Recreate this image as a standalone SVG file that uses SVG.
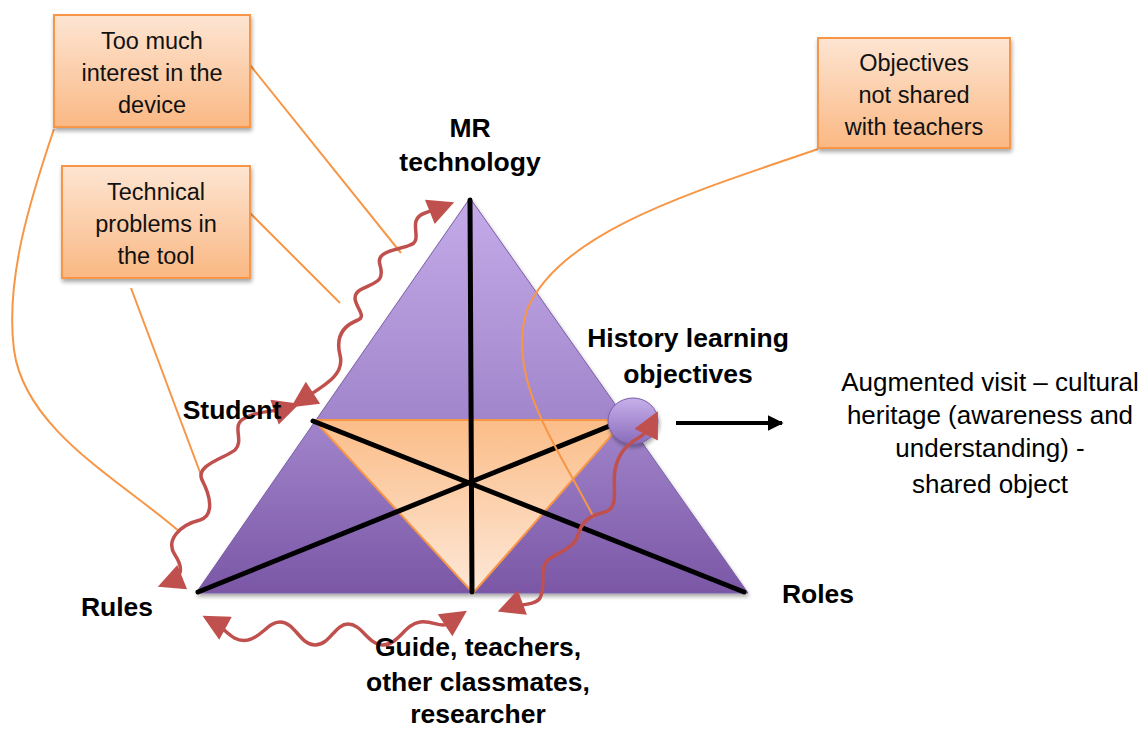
<svg xmlns="http://www.w3.org/2000/svg" width="1147" height="729" viewBox="0 0 1147 729">
<defs>
<linearGradient id="gPurple" x1="0" y1="0" x2="0" y2="1">
<stop offset="0" stop-color="#c4abe8"/><stop offset="0.55" stop-color="#a286cc"/><stop offset="1" stop-color="#7b57a6"/>
</linearGradient>
<linearGradient id="gOrange" x1="0" y1="0" x2="0" y2="1">
<stop offset="0" stop-color="#fbbd88"/><stop offset="1" stop-color="#fde8d8"/>
</linearGradient>
<linearGradient id="gBox" x1="0" y1="0" x2="0" y2="1">
<stop offset="0" stop-color="#fde5d3"/><stop offset="1" stop-color="#fab883"/>
</linearGradient>
<linearGradient id="gCircle" x1="0" y1="0" x2="0" y2="1">
<stop offset="0" stop-color="#c7b0ea"/><stop offset="1" stop-color="#8a6cbb"/>
</linearGradient>
<filter id="shadow" x="-10%" y="-10%" width="130%" height="130%">
<feGaussianBlur in="SourceAlpha" stdDeviation="2"/><feOffset dx="1" dy="3"/>
<feComponentTransfer><feFuncA type="linear" slope="0.35"/></feComponentTransfer>
<feMerge><feMergeNode/><feMergeNode in="SourceGraphic"/></feMerge>
</filter>
<marker id="redHead" viewBox="0 0 10 10" refX="5" refY="5" markerWidth="8.5" markerHeight="7.5" orient="auto-start-reverse" markerUnits="strokeWidth">
<path d="M0,0 L10,5 L0,10 z" fill="#c0504d"/>
</marker>
<marker id="blackHead" viewBox="0 0 10 10" refX="9" refY="5" markerWidth="4" markerHeight="4" orient="auto" markerUnits="strokeWidth">
<path d="M0,0 L10,5 L0,10 z" fill="#000"/>
</marker>
</defs>
<style>
.box{fill:url(#gBox);stroke:#f79646;stroke-width:2;filter:url(#shadow)}
.bt{font-family:"Liberation Sans",Arial,sans-serif;font-size:23.5px;fill:#111;text-anchor:middle}
.lbl{font-family:"Liberation Sans",Arial,sans-serif;font-size:26.5px;font-weight:bold;fill:#000;text-anchor:middle}
.txt{font-family:"Liberation Sans",Arial,sans-serif;font-size:26px;fill:#000;text-anchor:middle}
.oline{fill:none;stroke:#f79646;stroke-width:2}
.wave{fill:none;stroke:#c0504d;stroke-width:3.5;stroke-linecap:round}
.bl{stroke:#000;stroke-width:5;stroke-linecap:round}
</style>

<g id="triangle">
<polygon points="470,198 196,593 748,593" fill="url(#gPurple)" stroke="#7b5ea8" stroke-width="1" filter="url(#shadow)"/>
<polygon points="314,420 625,420 473,593" fill="url(#gOrange)" stroke="#f79646" stroke-width="2"/>
<line class="bl" x1="470" y1="200" x2="472" y2="592"/>
<line class="bl" x1="313" y1="421" x2="744" y2="592"/>
<line class="bl" x1="198" y1="592" x2="612" y2="425"/>
<ellipse cx="633" cy="421" rx="25" ry="23" fill="url(#gCircle)" stroke="#7b5ea8" stroke-width="1" filter="url(#shadow)"/>
</g>

<g id="connectors">
<path class="oline" d="M250,65 L401,253"/>
<path class="oline" d="M54,129 C30,200 5,280 14,350 C25,430 120,480 180,532"/>
<path class="oline" d="M250,213 L340,303"/>
<path class="oline" d="M131,288 L207,491"/>
<path class="oline" d="M818,149 C700,190 560,230 527,310 C505,380 560,450 594,518"/>
<line x1="676" y1="423" x2="782" y2="423" stroke="#000" stroke-width="4" marker-end="url(#blackHead)"/>
<path class="wave" marker-start="url(#redHead)" marker-end="url(#redHead)" d="M170,582 C180,578 185,570 175,555 C165,540 180,525 200,520 C215,515 210,495 202,480 C195,465 225,458 235,450 C245,440 230,425 245,418 C260,410 275,412 287,408"/>
<path class="wave" marker-start="url(#redHead)" marker-end="url(#redHead)" d="M302,400 C325,385 345,375 340,355 C335,335 345,325 358,320 C370,315 345,300 360,290 C375,282 385,282 380,265 C375,250 400,250 410,245 C425,240 405,220 425,213 C433,210 437,209 442,207"/>
<path class="wave" marker-start="url(#redHead)" marker-end="url(#redHead)" d="M214,622 C225,628 232,643 248,640 C262,637 268,622 280,622 C295,622 300,645 315,645 C330,645 335,624 348,624 C362,624 368,645 383,645 C398,645 405,624 420,622 C432,620 440,628 448,624 C451,622 453,620 456,618"/>
<path class="wave" marker-start="url(#redHead)" marker-end="url(#redHead)" d="M510,607 C518,604 535,606 540,598 C547,585 538,570 548,560 C558,552 575,548 578,535 C582,520 592,515 605,512 C620,508 612,485 615,470 C618,455 625,445 640,437 C647,432 650,427 652,423"/>
</g>

<g id="box-interest">
<rect class="box" x="54" y="15" width="196" height="112"/>
<text class="bt" x="152" y="49">Too much</text>
<text class="bt" x="152" y="81">interest in the</text>
<text class="bt" x="152" y="113">device</text>
</g>
<g id="box-technical">
<rect class="box" x="62" y="166" width="188" height="112"/>
<text class="bt" x="156" y="200">Technical</text>
<text class="bt" x="156" y="232">problems in</text>
<text class="bt" x="156" y="264">the tool</text>
</g>
<g id="box-objectives">
<rect class="box" x="818" y="38" width="192" height="110"/>
<text class="bt" x="914" y="71">Objectives</text>
<text class="bt" x="914" y="103">not shared</text>
<text class="bt" x="914" y="135">with teachers</text>
</g>

<g id="labels">
<text class="lbl" x="470" y="137">MR</text>
<text class="lbl" x="470" y="171">technology</text>
<text class="lbl" x="232" y="419">Student</text>
<text class="lbl" x="688" y="347">History learning</text>
<text class="lbl" x="688" y="383">objectives</text>
<text class="lbl" x="117" y="616">Rules</text>
<text class="lbl" x="818" y="603">Roles</text>
<text class="lbl" x="478" y="656">Guide, teachers,</text>
<text class="lbl" x="478" y="691">other classmates,</text>
<text class="lbl" x="478" y="723">researcher</text>
</g>
<g id="shared-object">
<text class="txt" x="990" y="391">Augmented visit – cultural</text>
<text class="txt" x="990" y="424">heritage (awareness and</text>
<text class="txt" x="990" y="457">understanding) -</text>
<text class="txt" x="990" y="493">shared object</text>
</g>
</svg>
